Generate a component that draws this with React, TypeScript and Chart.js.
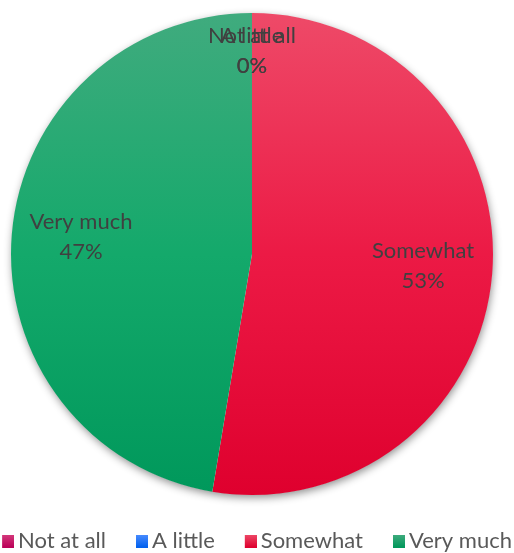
import React, { useEffect, useRef } from "react";
import { Chart, registerables } from "chart.js";

Chart.register(...registerables);

// ---- data ----
const categories = ["Not at all", "A little", "Somewhat", "Very much"];
const counts = [0, 0, 10, 9];
// gradient stops per category (top, middle, bottom)
const topColors = ["#D4397C", "#4A8CFF", "#EE4A68", "#40AB7E"];
const midColors = ["#C8106A", "#1F72FF", "#EC1A45", "#14A96B"];
const bottomColors = ["#BA0058", "#0060EE", "#DF002E", "#00985B"];

const RADIUS = 241;
const FONT = "Lato, 'Open Sans', sans-serif";

const total = counts.reduce((a, b) => a + b, 0);
const percentLabels = counts.map((v) => Math.round((v / total) * 100) + "%");

// legend swatch: a 12x13 gradient box drawn to the right part of a 27px wide image
function makeSwatch(i: number): HTMLCanvasElement {
  const c = document.createElement("canvas");
  c.width = 27;
  c.height = 13;
  const g = c.getContext("2d")!;
  const grad = g.createLinearGradient(0, 0, 0, 13);
  grad.addColorStop(0, topColors[i]);
  grad.addColorStop(1, bottomColors[i]);
  g.fillStyle = grad;
  g.fillRect(15, 0, 12, 13);
  return c;
}

const pieDecor = {
  id: "pieDecor",
  afterLayout(chart: any) {
    chart.chartArea.left -= 5;
    chart.chartArea.right -= 5;
  },
  beforeDatasetsDraw(chart: any) {
    const meta = chart.getDatasetMeta(0);
    const arc = meta.data[0];
    if (!arc) return;
    const { x, y, outerRadius } = arc.getProps(["x", "y", "outerRadius"], true);
    const ctx = chart.ctx;
    ctx.save();
    ctx.shadowColor = "rgba(0,0,0,0.45)";
    ctx.shadowBlur = 9;
    ctx.shadowOffsetX = 1;
    ctx.shadowOffsetY = 3;
    ctx.fillStyle = "#ffffff";
    ctx.beginPath();
    ctx.arc(x, y, outerRadius - 0.5, 0, Math.PI * 2);
    ctx.fill();
    ctx.restore();
  },
  afterDatasetsDraw(chart: any) {
    const meta = chart.getDatasetMeta(0);
    const ctx = chart.ctx;
    ctx.save();
    ctx.font = `22px ${FONT}`;
    ctx.fillStyle = "#404040";
    ctx.textAlign = "center";
    ctx.textBaseline = "middle";
    meta.data.forEach((arc: any, i: number) => {
      const { x, y, startAngle, endAngle, outerRadius } = arc.getProps(
        ["x", "y", "startAngle", "endAngle", "outerRadius"],
        true
      );
      const mid = (startAngle + endAngle) / 2;
      const f = counts[i] === 0 ? 0.834 : 0.712;
      const cx = x + Math.cos(mid) * outerRadius * f;
      const cy = y + Math.sin(mid) * outerRadius * f;
      ctx.fillText(categories[i], cx, cy - 17.5);
      ctx.fillText(percentLabels[i], cx, cy + 12.5);
    });
    ctx.restore();
  },
};

export default function App() {
  const ref = useRef<HTMLCanvasElement | null>(null);

  useEffect(() => {
    if (!ref.current) return;
    const swatches = categories.map((_, i) => makeSwatch(i));
    const chart = new Chart(ref.current, {
      type: "pie",
      data: {
        labels: categories,
        datasets: [
          {
            data: counts,
            borderWidth: 0,
            radius: RADIUS,
            backgroundColor: (c: any) => {
              const ch = c.chart;
              const area = ch.chartArea;
              if (!area) return midColors[c.dataIndex];
              const cy = (area.top + area.bottom) / 2;
              const g = ch.ctx.createLinearGradient(0, cy - RADIUS, 0, cy + RADIUS);
              g.addColorStop(0, topColors[c.dataIndex]);
              g.addColorStop(0.5, midColors[c.dataIndex]);
              g.addColorStop(1, bottomColors[c.dataIndex]);
              return g;
            },
          } as any,
        ],
      },
      options: {
        animation: false,
        responsive: true,
        maintainAspectRatio: false,
        layout: { padding: { top: -4, left: -44, right: -36, bottom: -9 } },
        plugins: {
          tooltip: { enabled: false },
          legend: {
            position: "bottom",
            labels: {
              usePointStyle: true,
              boxWidth: 13,
              boxHeight: 13,
              padding: 22,
              color: "#595959",
              font: { family: FONT, size: 22 },
              generateLabels: () =>
                categories.map((c, i) => ({
                  text: c,
                  fillStyle: midColors[i],
                  strokeStyle: midColors[i],
                  lineWidth: 0,
                  pointStyle: swatches[i],
                  hidden: false,
                  index: i,
                  fontColor: "#595959",
                })),
            },
          },
        },
      },
      plugins: [pieDecor],
    });
    return () => chart.destroy();
  }, []);

  return (
    <div
      style={{
        position: "fixed",
        left: 0,
        top: 0,
        width: 514,
        height: 553,
        background: "#ffffff",
      }}
    >
      <canvas ref={ref} />
    </div>
  );
}
